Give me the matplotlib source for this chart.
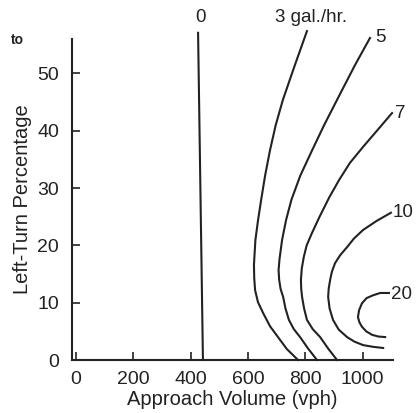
import matplotlib
matplotlib.use('Agg')
import matplotlib.pyplot as plt

plt.rcParams['font.family'] = ['Liberation Sans', 'DejaVu Sans']

# curves: (approach volume vph, left-turn percentage)
c0_x = [426, 443]
c0_y = [57.1, 0.0]

c3_x = [806, 762, 722, 697, 677, 660, 646, 635, 626, 621, 622, 625, 635,
        653, 677, 705, 736, 775]
c3_y = [57.4, 51.2, 45.4, 41.0, 36.6, 32.2, 27.9, 24.3, 20.9, 16.6, 14.3,
        12.2, 10.1, 8.2, 5.9, 4.0, 1.9, 0.0]

c5_x = [1026, 974, 911, 866, 824, 783, 752, 733, 719, 710, 707, 709, 714,
        723, 731, 743, 760, 782, 810, 841]
c5_y = [56.2, 51.5, 45.4, 41.0, 36.6, 32.2, 28.0, 24.4, 20.9, 17.5, 15.7,
        14.0, 12.4, 11.0, 9.0, 7.0, 5.4, 4.0, 2.0, 0.0]

c7_x = [1103, 1050, 1002, 956, 918, 884, 850, 822, 805, 795, 788, 785,
        786, 789, 796, 806, 826, 852, 880, 911]
c7_y = [43.1, 40.0, 37.2, 34.4, 31.4, 28.4, 25.0, 22.0, 20.0, 18.0, 16.0,
        14.0, 12.4, 11.0, 9.0, 7.0, 5.4, 4.0, 2.0, 0.0]

c10_x = [1099, 1050, 1002, 970, 946, 922, 904, 893, 887, 882, 880, 885, 897,
         917, 946, 972, 1002, 1037, 1072]
c10_y = [25.7, 24.3, 22.7, 21.2, 19.7, 18.3, 16.9, 15.4, 14.0, 12.5, 11.0,
         9.0, 7.0, 5.3, 4.0, 3.2, 2.6, 2.3, 2.1]

c20_x = [1092, 1062, 1037, 1014, 998, 988, 984, 989, 998, 1013, 1033, 1055,
         1079]
c20_y = [11.7, 11.7, 11.3, 10.8, 9.9, 8.7, 7.5, 6.6, 5.8, 5.0, 4.4, 4.1, 4.0]

curves = [(c0_x, c0_y), (c3_x, c3_y), (c5_x, c5_y),
          (c7_x, c7_y), (c10_x, c10_y), (c20_x, c20_y)]

# curve labels and where they sit
labels = ['0', '3 gal./hr.', '5', '7', '10', '20']
label_x = [433, 695, 1044, 1113, 1104, 1100]
label_y = [59.7, 59.7, 56.2, 43.1, 25.8, 11.5]
label_ha = ['center', 'left', 'left', 'left', 'left', 'left']

x_ticks = [0, 200, 400, 600, 800, 1000]
y_ticks = [0, 10, 20, 30, 40, 50]

ink = '#222222'

fig = plt.figure(figsize=(4.16, 4.13), dpi=100)
ax = fig.add_axes([0.1724, 0.1283, 0.7714, 0.777])

for xs, ys in curves:
    ax.plot(xs, ys, color=ink, lw=1.5, clip_on=False, solid_joinstyle='round')

for t, lx, ly, ha in zip(labels, label_x, label_y, label_ha):
    ax.text(lx, ly, t, ha=ha, va='center', fontsize=13.5, color=ink, clip_on=False)

ax.set_xlim(-15, 1105)
ax.set_ylim(0, 56)
ax.set_xticks(x_ticks)
ax.set_yticks(y_ticks)
ax.tick_params(direction='in', length=6, width=1.2, colors=ink,
               labelsize=14, pad=8)
ax.tick_params(axis='y', pad=9)
for s in ['top', 'right']:
    ax.spines[s].set_visible(False)
for s in ['left', 'bottom']:
    ax.spines[s].set_linewidth(1.5)
    ax.spines[s].set_color(ink)

ax.set_xlabel('Approach Volume (vph)', fontsize=14.5, color=ink, labelpad=1)
ax.set_ylabel('Left-Turn Percentage', fontsize=14.5, color=ink, labelpad=4)

fig.text(0.025, 0.903, 'to', fontsize=10, fontweight='bold', color=ink,
         va='center')

fig.savefig('out.png', dpi=100)
